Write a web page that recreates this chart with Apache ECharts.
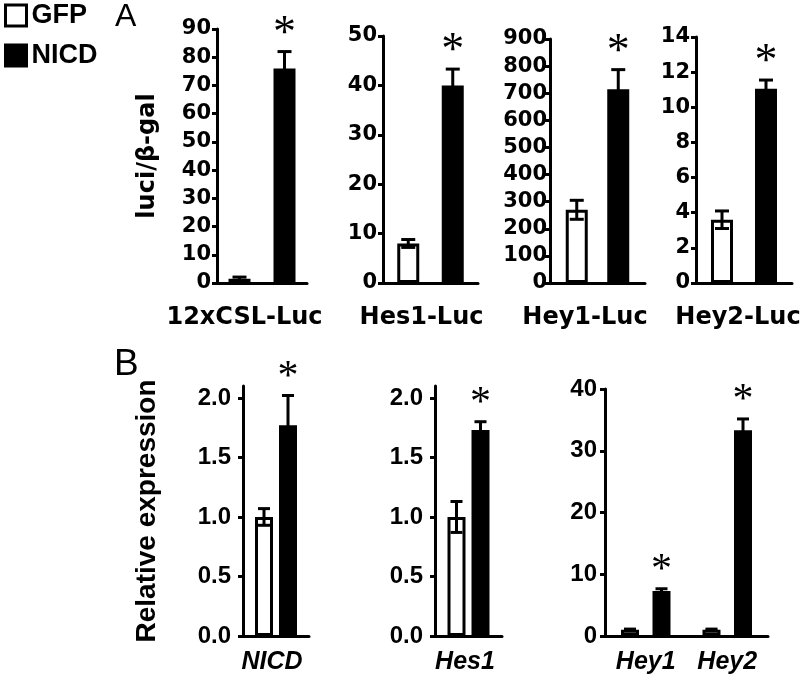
<!DOCTYPE html>
<html><head><meta charset="utf-8">
<script src="https://cdn.jsdelivr.net/npm/echarts@6/dist/echarts.min.js"></script>
<style>html,body{margin:0;padding:0;background:#fff}#c{width:800px;height:680px}</style>
</head><body><div id="c"></div>
<script>
// ---------- Panel A (luciferase reporters) ----------
const catsA = [['12xCSL-Luc'], ['Hes1-Luc'], ['Hey1-Luc'], ['Hey2-Luc']];
const gfpA = [[1.5], [8.0], [270], [3.6]];
const gfpAErr = [[0.6], [0.8], [35], [0.5]];
const nicdA = [[76], [40], [715], [11.05]];
const nicdAErr = [[6], [3.3], [72], [0.5]];
const sigA = [[1], [1], [1], [1]];
const ticksA = [
  [0, 10, 20, 30, 40, 50, 60, 70, 80, 90],
  [0, 10, 20, 30, 40, 50],
  [0, 100, 200, 300, 400, 500, 600, 700, 800, 900],
  [0, 2, 4, 6, 8, 10, 12, 14]
];
const yMaxA = [90, 50, 900, 14];

// ---------- Panel B (relative expression) ----------
const catsB = [['NICD'], ['Hes1'], ['Hey1', 'Hey2']];
const gfpB = [[1.0], [1.0], [1.0, 1.0]];
const gfpBErr = [[0.07], [0.13], [0.12, 0.12]];
const nicdB = [[1.77], [1.73], [7.3, 33.3]];
const nicdBErr = [[0.25], [0.07], [0.35, 1.85]];
const sigB = [[1], [1], [1, 1]];
const ticksB = [
  [0, 0.5, 1.0, 1.5, 2.0],
  [0, 0.5, 1.0, 1.5, 2.0],
  [0, 10, 20, 30, 40]
];
const yMaxB = [2.1, 2.1, 40];

const seriesNames = ['GFP', 'NICD'];
const yTitleA = 'luci/β-gal';
const yTitleB = 'Relative expression';

// ---------- layout (styles only) ----------
const layoutA = [
  {left: 217, top: 29, width: 90, height: 254, dist: 45, tickMargin: 6, labelPad: 35},
  {left: 383, top: 36, width: 95, height: 247, dist: 44.5, tickMargin: 6, labelPad: 18},
  {left: 550, top: 39, width: 95, height: 244, dist: 41.5, tickMargin: 3, labelPad: 25},
  {left: 696, top: 37, width: 96, height: 246, dist: 44, tickMargin: 6, labelPad: 12}
];
const layoutB = [
  {left: 243, top: 386, width: 66, height: 250, dist: 24, tickMargin: 12, labelPad: 8},
  {left: 435, top: 386, width: 67, height: 250, dist: 24, tickMargin: 12, labelPad: 7},
  {left: 605, top: 389, width: 163, height: 247, dist: 31.5, tickMargin: 8, labelPad: 0}
];

const FA = 'DejaVu Sans';
const FB = 'Liberation Sans';
const BLACK = '#000';

const grids = [], xAxes = [], yAxes = [], series = [];

function errRender(dist, capW, starSize) {
  return function (params, api) {
    const ci = api.value(0);
    const children = [];
    [[1, 2, -1], [3, 4, 1]].forEach(function (d) {
      const v = api.value(d[0]), e = api.value(d[1]), side = d[2];
      const base = api.coord([ci, v]);
      const x = base[0] + side * dist / 2;
      const yTop = api.coord([ci, v + e])[1];
      const yBot = api.coord([ci, Math.max(0, v - e)])[1];
      children.push({type: 'line', shape: {x1: x, y1: yTop, x2: x, y2: yBot}, style: {stroke: BLACK, lineWidth: 3}});
      children.push({type: 'line', shape: {x1: x - capW / 2, y1: yTop, x2: x + capW / 2, y2: yTop}, style: {stroke: BLACK, lineWidth: 3}});
      children.push({type: 'line', shape: {x1: x - capW / 2, y1: yBot, x2: x + capW / 2, y2: yBot}, style: {stroke: BLACK, lineWidth: 3}});
      if (side > 0 && api.value(5)) {
        children.push({type: 'text', style: {text: '*', x: x, y: yTop - 23 + starSize * 0.13, align: 'center', verticalAlign: 'middle',
          font: starSize + 'px "Liberation Serif"', fill: BLACK}});
      }
    });
    return {type: 'group', children: children};
  };
}

function addPanel(idx, lay, cats, gfp, gfpErr, nicd, nicdErr, sig, ticks, ymax, opts) {
  grids.push({left: lay.left, top: lay.top, width: lay.width, height: lay.height, containLabel: false, outerBoundsMode: 'none'});
  xAxes.push({
    type: 'category', gridIndex: idx, data: cats,
    axisLine: {show: true, lineStyle: {color: BLACK, width: 3}},
    axisTick: {show: false},
    axisLabel: {interval: 0, color: BLACK, fontFamily: opts.catFont, fontWeight: 'bold', fontStyle: opts.catStyle,
      fontSize: opts.catSize, margin: opts.catMargin, padding: [0, lay.labelPad, 0, 0]},
    splitLine: {show: false}
  });
  const ya = {
    type: 'value', gridIndex: idx, min: 0, max: ymax,
    axisLine: {show: true, lineStyle: {color: BLACK, width: 3}},
    axisTick: {show: true, length: 5, lineStyle: {color: BLACK, width: 3}, customValues: ticks},
    axisLabel: {color: BLACK, fontFamily: opts.tickFont, fontWeight: 'bold', fontSize: opts.tickSize,
      margin: lay.tickMargin, customValues: ticks, formatter: opts.fmt},
    splitLine: {show: false}
  };
  if (opts.title) {
    ya.name = opts.title;
    ya.nameLocation = 'middle';
    ya.nameRotate = 90;
    ya.nameGap = opts.titleGap;
    ya.nameTextStyle = {color: BLACK, fontFamily: opts.titleFont, fontWeight: 'bold', fontSize: opts.titleSize};
  }
  yAxes.push(ya);
  const bw = opts.barWidth;
  const gap = ((lay.dist / bw) - 1) * 100 + '%';
  series.push({
    type: 'bar', name: seriesNames[0], xAxisIndex: idx, yAxisIndex: idx, data: gfp,
    barWidth: bw, barGap: gap,
    itemStyle: {color: '#fff', borderColor: BLACK, borderWidth: 3}, z: 2, animation: false
  });
  series.push({
    type: 'bar', name: seriesNames[1], xAxisIndex: idx, yAxisIndex: idx, data: nicd,
    barWidth: bw, barGap: gap,
    itemStyle: {color: BLACK, borderColor: BLACK, borderWidth: 3}, z: 2, animation: false
  });
  series.push({
    type: 'custom', xAxisIndex: idx, yAxisIndex: idx, z: 3, clip: false, silent: true, animation: false,
    renderItem: errRender(lay.dist, opts.capW, opts.starSize),
    data: cats.map(function (c, i) { return [i, gfp[i], gfpErr[i], nicd[i], nicdErr[i], sig[i]]; })
  });
}

for (let i = 0; i < 4; i++) {
  addPanel(i, layoutA[i], catsA[i], gfpA[i], gfpAErr[i], nicdA[i], nicdAErr[i], sigA[i], ticksA[i], yMaxA[i], {
    catFont: FA, catStyle: 'normal', catSize: 24, catMargin: 23,
    tickFont: FA, tickSize: 21, fmt: function (v) { return String(v); },
    barWidth: 22, capW: 14, starSize: 46,
    title: i === 0 ? yTitleA : null, titleGap: 57, titleFont: FA, titleSize: 24
  });
}
for (let j = 0; j < 3; j++) {
  addPanel(4 + j, layoutB[j], catsB[j], gfpB[j], gfpBErr[j], nicdB[j], nicdBErr[j], sigB[j], ticksB[j], yMaxB[j], {
    catFont: FB, catStyle: 'italic', catSize: 25, catMargin: 14,
    tickFont: FB, tickSize: 24, fmt: j < 2 ? function (v) { return v.toFixed(1); } : function (v) { return String(v); },
    barWidth: 18, capW: 12, starSize: 42,
    title: j === 0 ? yTitleB : null, titleGap: 82, titleFont: FB, titleSize: 28
  });
}

const chart = echarts.init(document.getElementById('c'), null, {renderer: 'canvas'});
chart.setOption({
  backgroundColor: '#fff',
  animation: false,
  legend: {
    orient: 'vertical', left: 4, top: 2, padding: 0, itemWidth: 21, itemHeight: 21, itemGap: 13, icon: 'rect',
    textStyle: {color: BLACK, fontFamily: FB, fontWeight: 'bold', fontSize: 27},
    data: [
      {name: 'GFP', itemStyle: {color: '#fff', borderColor: BLACK, borderWidth: 3}},
      {name: 'NICD', itemStyle: {color: BLACK, borderColor: BLACK, borderWidth: 3}}
    ],
    selectedMode: false
  },
  graphic: [
    {type: 'text', left: 115, top: 1, style: {text: 'A', font: '32px "Liberation Sans"', fill: BLACK}},
    {type: 'text', left: 114, top: 346, style: {text: 'B', font: '37px "Liberation Sans"', fill: BLACK}}
  ],
  grid: grids,
  xAxis: xAxes,
  yAxis: yAxes,
  series: series
});
</script>
</body></html>
